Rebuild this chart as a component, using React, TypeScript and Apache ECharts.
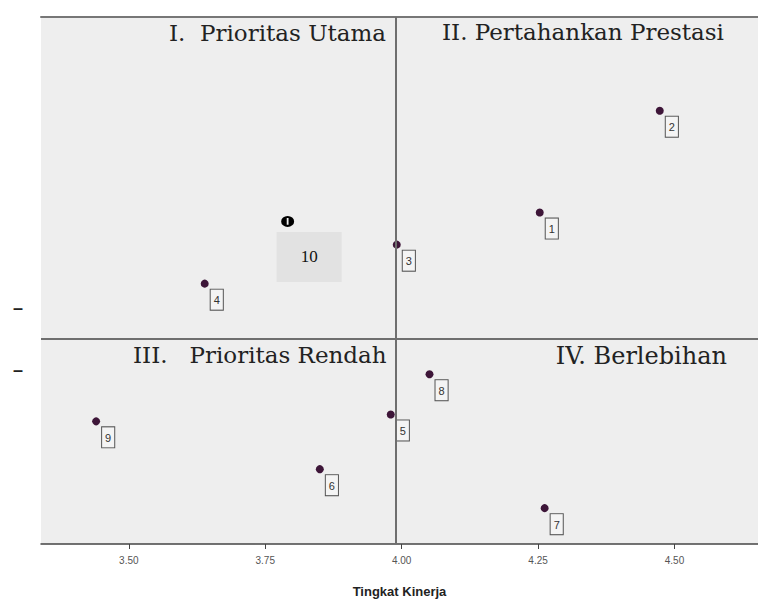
import React, { useEffect, useRef } from "react";
import * as echarts from "echarts";

// Data
const labels = ["1", "2", "3", "4", "5", "6", "7", "8", "9"];
const kinerja = [4.253, 4.473, 3.991, 3.639, 3.98, 3.85, 4.262, 4.051, 3.44];
const kepentingan = [4.351, 4.513, 4.3, 4.238, 4.03, 3.943, 3.881, 4.094, 4.019];
const label10 = "10";
const kinerja10 = 3.791;
const kepentingan10 = 4.337;
const xTicks = [3.5, 3.75, 4.0, 4.25, 4.5];
const yDashTicks = [4.2, 4.1];
const meanX = 3.994;
const meanY = 4.152;
const quadrantTitles = [
  "I.  Prioritas Utama",
  "II. Pertahankan Prestasi",
  "III.   Prioritas Rendah",
  "IV. Berlebihan",
];

const holePath =
  "path://M5,0 A5,5 0 1,1 5,10 A5,5 0 1,1 5,0 Z M4.3,2 L4.3,8 L5.7,8 L5.7,2 Z";

export default function App() {
  const ref = useRef<HTMLDivElement>(null);
  useEffect(() => {
    if (!ref.current) return;
    const chart = echarts.init(ref.current, null, { renderer: "svg" });
    const serif = "'DejaVu Serif', serif";
    const numSerif = "'Liberation Serif', 'Times New Roman', serif";
    const sans = "'Liberation Sans', Arial, sans-serif";
    const title = (text: string, x: number, y: number, align: string, size = 23) => ({
      type: "text",
      x,
      y,
      z: 10,
      style: {
        text,
        fontFamily: serif,
        fontSize: size,
        fill: "#222222",
        textAlign: align,
        textVerticalAlign: "middle",
      },
    });
    chart.setOption({
      animation: false,
      backgroundColor: "#ffffff",
      grid: {
        left: 41,
        right: 0,
        top: 17,
        bottom: 58,
        show: true,
        backgroundColor: "#eeeeee",
        borderWidth: 0,
      },
      xAxis: [
        {
          type: "value",
          min: 3.339,
          max: 4.653,
          name: "Tingkat Kinerja",
          nameLocation: "middle",
          nameGap: 41,
          nameTextStyle: { fontFamily: sans, fontWeight: "bold", fontSize: 13, color: "#222" },
          axisLine: { show: true, lineStyle: { color: "#444", width: 1.5 } },
          axisTick: { show: true, customValues: xTicks, length: 5, lineStyle: { color: "#444" } },
          axisLabel: {
            customValues: xTicks,
            formatter: (v: number) => v.toFixed(2),
            fontFamily: sans,
            fontSize: 10,
            color: "#555",
            margin: 11,
          },
          splitLine: { show: false },
        },
        {
          type: "value",
          position: "top",
          min: 3.339,
          max: 4.653,
          axisLine: { show: true, lineStyle: { color: "#777", width: 2 } },
          axisTick: { show: false },
          axisLabel: { show: false },
          splitLine: { show: false },
        },
      ],
      yAxis: {
        type: "value",
        min: 3.824,
        max: 4.662,
        axisLine: { show: false },
        axisTick: { show: false },
        splitLine: { show: false },
        axisLabel: {
          customValues: yDashTicks,
          formatter: () => "–",
          fontFamily: sans,
          fontWeight: "bold",
          fontSize: 18,
          color: "#222",
          margin: 18,
        },
      },
      series: [
        {
          type: "scatter",
          xAxisIndex: 0,
          symbol: "circle",
          symbolSize: 8,
          itemStyle: { color: "#3d1538", opacity: 1 },
          data: kinerja.map((x, i) => ({ value: [x, kepentingan[i]], name: labels[i] })),
          label: {
            show: true,
            position: [10, 10],
            formatter: (p: any) => p.name,
            fontFamily: sans,
            fontSize: 11,
            color: "#333333",
            backgroundColor: "#f4f4f4",
            borderColor: "#555",
            borderWidth: 1,
            padding: [4, 3, 3, 3],
            lineHeight: 13,
          },
          markLine: {
            silent: true,
            symbol: "none",
            label: { show: false },
            lineStyle: { color: "#6e6e6e", width: 2, type: "solid" },
            data: [{ xAxis: meanX }, { yAxis: meanY }],
          },
          z: 3,
        },
        {
          type: "scatter",
          xAxisIndex: 0,
          symbol: holePath,
          symbolSize: [13, 11],
          itemStyle: { color: "#000", opacity: 1 },
          data: [{ value: [kinerja10, kepentingan10], name: label10 }],
          label: {
            show: true,
            position: [28, 16],
            align: "center",
            verticalAlign: "top",
            formatter: (p: any) => p.name,
            fontFamily: numSerif,
            fontSize: 17,
            color: "#111",
            backgroundColor: "#e2e2e2",
            width: 65,
            height: 50,
            lineHeight: 50,
          },
          z: 3,
        },
      ],
      graphic: [
        title(quadrantTitles[0], 386, 33, "right"),
        title(quadrantTitles[1], 442, 32, "left"),
        title(quadrantTitles[2], 133, 355, "left"),
        title(quadrantTitles[3], 727, 356, "right", 24),
      ],
    });
    return () => chart.dispose();
  }, []);
  return <div ref={ref} style={{ width: 758, height: 603, position: "absolute", left: 0, top: 0 }} />;
}
